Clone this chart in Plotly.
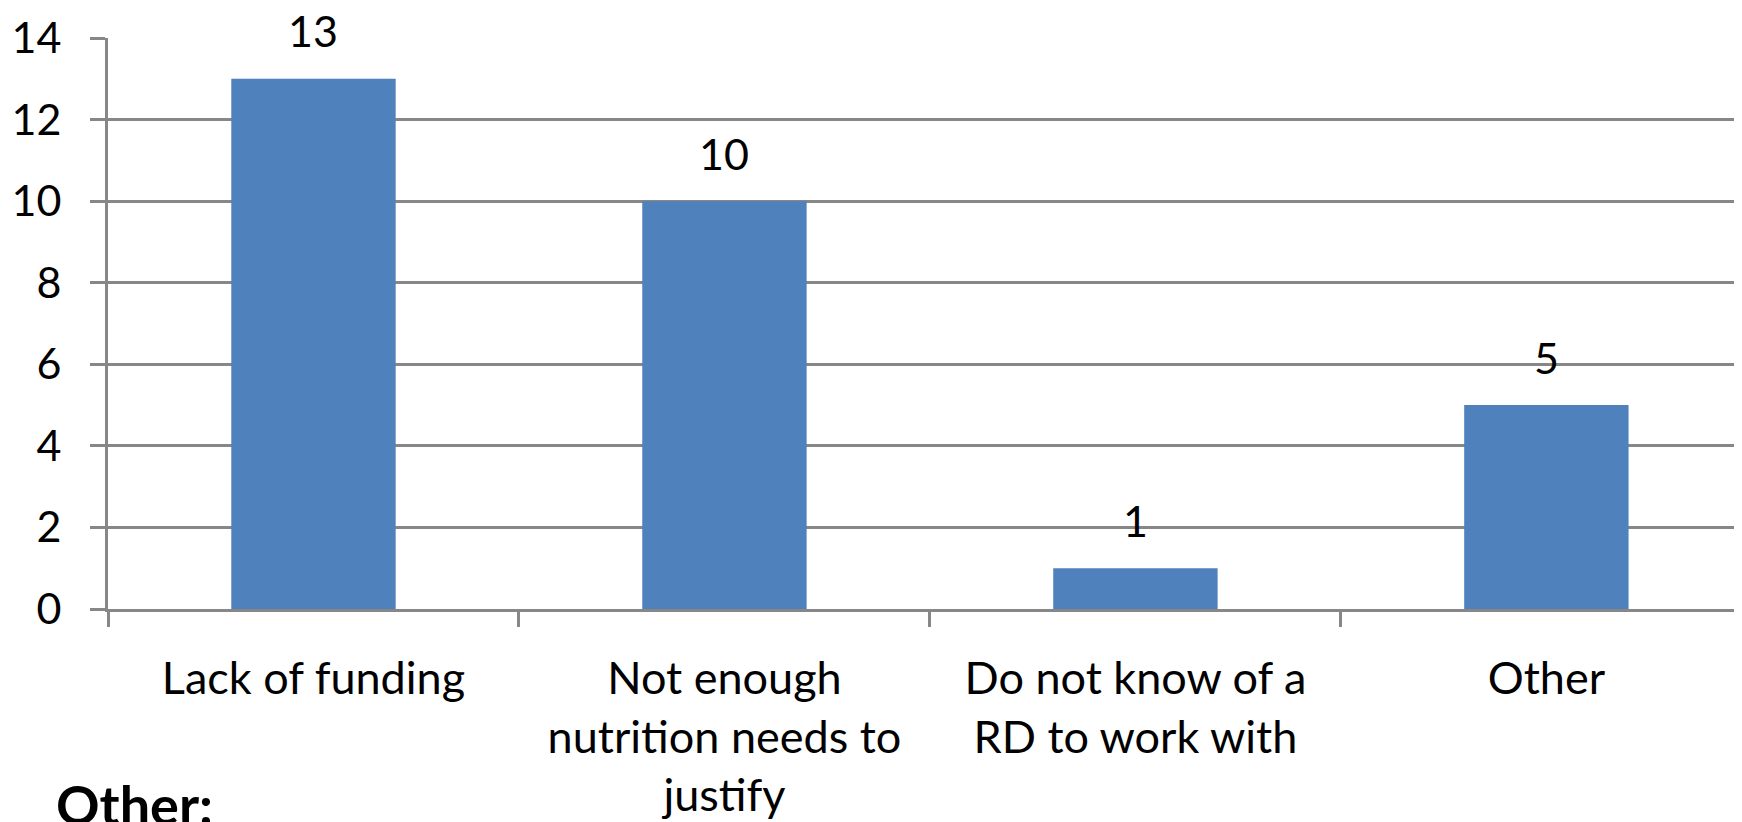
import plotly.graph_objects as go

categories = ["Lack of funding", "Not enough<br>nutrition needs to<br>justify", "Do not know of a<br>RD to work with", "Other"]
values = [13, 10, 1, 5]
y_ticks = [0, 2, 4, 6, 8, 10, 12, 14]

FONT = "Lato"
GRAY = "#878787"
BLUE = "#4F81BD"

fig = go.Figure()
fig.add_trace(go.Bar(x=categories, y=values, width=0.4,
                     marker=dict(color=BLUE, line=dict(width=0))))

for c, v in zip(categories, values):
    fig.add_annotation(x=c, y=v, text=str(v), showarrow=False, yanchor="middle",
                       yshift=48, font=dict(family=FONT, size=43, color="black"))

fig.add_annotation(xref="paper", yref="paper", x=-0.033, y=-0.343, xanchor="left", yanchor="middle",
                   text="<b>Other:</b>", showarrow=False,
                   font=dict(family=FONT, size=54, color="black"))

fig.update_layout(
    width=1734, height=814,
    margin=dict(l=100, r=0, t=30, b=213, autoexpand=False),
    paper_bgcolor="white", plot_bgcolor="white",
    showlegend=False,
    font=dict(family=FONT, color="black"),
)
fig.update_xaxes(
    type="category", range=[-0.5, 3.476], automargin=False,
    tickson="boundaries", ticks="outside", ticklen=15, tickwidth=3, tickcolor=GRAY,
    showline=True, linecolor=GRAY, linewidth=3, showgrid=False,
    tickfont=dict(family=FONT, size=45, color="black"),
    ticklabelstandoff=28,
)
fig.update_yaxes(
    range=[0, 14], tickvals=y_ticks, automargin=False,
    ticks="outside", ticklen=15, tickwidth=3, tickcolor=GRAY,
    showline=True, linecolor=GRAY, linewidth=3,
    showgrid=True, gridcolor=GRAY, gridwidth=3, zeroline=False,
    tickfont=dict(family=FONT, size=43, color="black"),
    ticklabelstandoff=20,
)

fig.write_html("out.html")
